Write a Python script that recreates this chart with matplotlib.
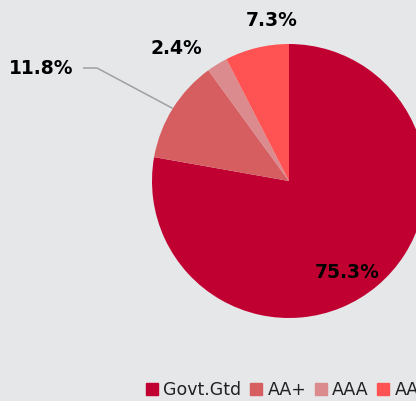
import numpy as np
import matplotlib
matplotlib.use('Agg')
import matplotlib.pyplot as plt
from matplotlib.lines import Line2D

plt.rcParams['font.family'] = ['DejaVu Sans']

# 数据
categories = ['Govt.Gtd', 'AA+', 'AAA', 'AA']
values = [75.3, 11.8, 2.4, 7.3]
colors = ['#c10032', '#d65e60', '#db8b8d', '#ff5353']
bg = '#e6e7e9'

fig = plt.figure(figsize=(4.16, 4.01), dpi=100, facecolor=bg)
ax = fig.add_axes([0, 0, 1, 1])
ax.set_facecolor(bg)
ax.set_xlim(0, 416)
ax.set_ylim(0, 401)
ax.set_aspect('equal')
ax.axis('off')

# 饼图（按总数归一化）
cx, cy, r = 289, 220, 137
wedges, _ = ax.pie(values, colors=colors, startangle=90, counterclock=False,
                   center=(cx, cy), radius=r, normalize=True,
                   wedgeprops={'linewidth': 0})
ax.set_xlim(0, 416)
ax.set_ylim(0, 401)

# 数据标签位置
label_pos = [(347, 129), (41, 332), (176, 352), (272, 380)]
for w, v, (lx, ly) in zip(wedges, values, label_pos):
    txt = f'{v:.1f}%'
    if v == 11.8:
        mid = np.deg2rad((w.theta1 + w.theta2) / 2)
        ex, ey = cx + r * np.cos(mid), cy + r * np.sin(mid)
        ax.plot([83, 97, ex], [333, 333, ey], color='#a0a0a0', lw=1.1,
                solid_capstyle='butt')
    ax.text(lx, ly, txt, ha='center', va='center', fontsize=13.5,
            fontweight='bold', color='black')

# 图例
handles = [Line2D([0], [0], marker='s', linestyle='none', markersize=8.8,
                  markerfacecolor=c, markeredgecolor=c) for c in colors]
leg = fig.legend(handles, categories, loc='center left',
                 bbox_to_anchor=(145 / 416, 1 - 390 / 401), ncol=4,
                 frameon=False, fontsize=12.5, handlelength=0.75,
                 handletextpad=0.3, columnspacing=0.45, borderpad=0,
                 borderaxespad=0)
for t in leg.get_texts():
    t.set_color('#222222')

fig.savefig('out.png', dpi=100, facecolor=bg)
